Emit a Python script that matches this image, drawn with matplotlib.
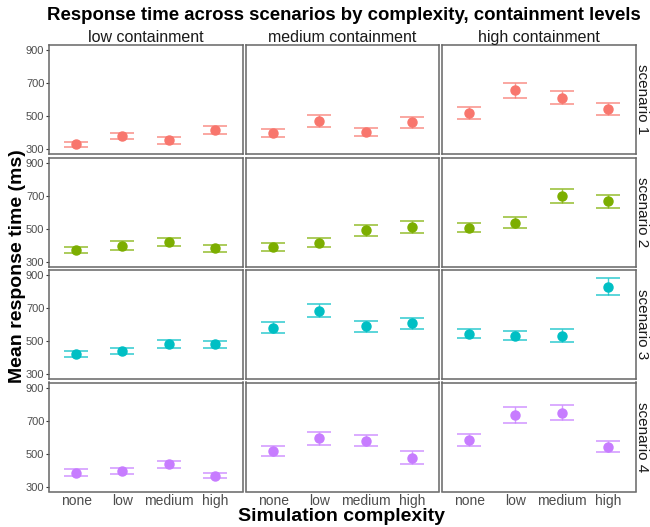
import matplotlib.pyplot as plt

plt.rcParams['font.family'] = ['Liberation Sans', 'DejaVu Sans']

complexity = ['none', 'low', 'medium', 'high']
containment = ['low containment', 'medium containment', 'high containment']
scenarios = ['scenario 1', 'scenario 2', 'scenario 3', 'scenario 4']
colors = ['#F8766D', '#7CAE00', '#00BFC4', '#C77CFF']

# mean response time, per scenario: [low, medium, high containment] x complexity
mean_s1 = [[330, 382, 354, 418], [397, 472, 405, 463], [521, 658, 614, 544]]
mean_s2 = [[371, 398, 421, 382], [390, 417, 492, 512], [508, 538, 699, 666]]
mean_s3 = [[424, 443, 484, 482], [583, 685, 590, 610], [546, 535, 534, 832]]
mean_s4 = [[386, 395, 437, 367], [515, 594, 580, 476], [585, 735, 750, 543]]

# half-width of error bars
err_s1 = [[16, 20, 19, 23], [24, 34, 24, 32], [35, 44, 40, 35]]
err_s2 = [[20, 27, 26, 22], [27, 26, 33, 35], [27, 35, 41, 40]]
err_s3 = [[18, 19, 24, 23], [33, 39, 34, 34], [26, 25, 38, 54]]
err_s4 = [[20, 18, 20, 16], [30, 40, 32, 39], [35, 47, 44, 32]]

means = [mean_s1, mean_s2, mean_s3, mean_s4]
errs = [err_s1, err_s2, err_s3, err_s4]

W, H = 650, 527
fig = plt.figure(figsize=(W / 100, H / 100), dpi=100)

lefts = [48.5, 245.5, 441.5]
tops = [45, 157.5, 270, 382.5]
pw, ph = 194, 109
x = list(range(len(complexity)))

for r in range(4):
    for c in range(3):
        ax = fig.add_axes([lefts[c] / W, 1 - (tops[r] + ph) / H, pw / W, ph / H])
        ax.errorbar(x, means[r][c], yerr=errs[r][c], fmt='none',
                    ecolor=colors[r], alpha=0.75, capsize=8.7, elinewidth=1,
                    capthick=1.2)
        ax.plot(x, means[r][c], 'o', color=colors[r], markersize=6.5)
        ax.set_xlim(-0.6, 3.6)
        ax.set_ylim(272, 932)
        ax.set_yticks([300, 500, 700, 900])
        ax.set_xticks(x)
        for s in ax.spines.values():
            s.set_color('#666666')
            s.set_linewidth(1.1)
        ax.tick_params(axis='y', length=2, width=0.8, color='#333333',
                       labelcolor='#4D4D4D', labelsize=8, pad=1)
        ax.tick_params(axis='x', length=0, labelcolor='#4D4D4D',
                       labelsize=10, pad=2)
        if c > 0:
            ax.tick_params(axis='y', labelleft=False, length=0)
        if r < 3:
            ax.tick_params(axis='x', labelbottom=False)
        else:
            ax.set_xticklabels(complexity)
        if r == 0:
            ax.set_title(containment[c], fontsize=11.5, pad=1.5, color='#1A1A1A')
        if c == 2:
            ax.text(642 / W, 1 - (tops[r] + ph / 2) / H, scenarios[r],
                    transform=fig.transFigure, rotation=-90, va='center',
                    ha='center', fontsize=11, color='#1A1A1A')

fig.text(344 / W, 1 - 16 / H,
         'Response time across scenarios by complexity, containment levels',
         ha='center', va='center', fontsize=13.4, fontweight='bold')
fig.text(18 / W, 1 - 266 / H, 'Mean response time (ms)', rotation=90,
         ha='center', va='center', fontsize=14, fontweight='bold')
fig.text(341 / W, 1 - 521 / H, 'Simulation complexity', ha='center',
         va='baseline', fontsize=14, fontweight='bold')

fig.savefig('out.png', dpi=100)
